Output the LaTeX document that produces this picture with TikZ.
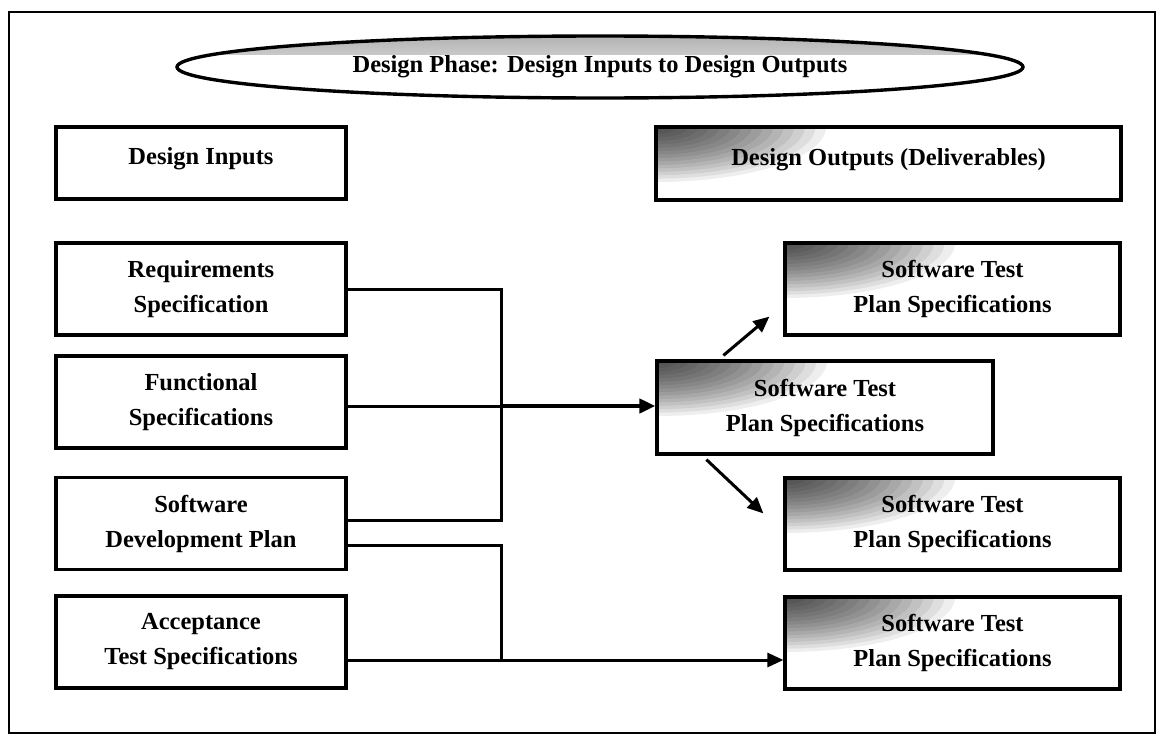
\documentclass[tikz,border=0pt]{standalone}
\usepackage{fontspec}
\setmainfont{Liberation Serif}
\usetikzlibrary{arrows.meta,calc,shapes.geometric}
\begin{document}
\begin{tikzpicture}[x=1pt,y=-1pt,
  txt/.style={font=\fontsize{24.5}{35}\selectfont\bfseries},
  box/.style={txt, draw=black, line width=3.2pt, fill=white, inner sep=0pt, align=center},
  shaded corner/.style={path picture={\foreach \k in {1,...,16} {\fill[black, fill opacity=0.065] (path picture bounding box.north west) ellipse ({170pt*\k/16} and {55pt*\k/16});}}},
  inbox/.style={box, minimum width=290pt, minimum height=92pt},
  outbox/.style={box, shaded corner, minimum width=335pt, minimum height=92pt},
  conn/.style={draw=black, line width=3pt},
  arr/.style={conn, -{Triangle[length=16pt,width=14pt]}},
]
\useasboundingbox (0,0) rectangle (1158,736);
\draw[line width=2.6pt] (9,12) rectangle (1155,733);

\node[txt, ellipse, draw=black, line width=3.4pt, minimum width=846pt, minimum height=62pt, inner sep=0pt,
  path picture={\shade[top color=black!30, bottom color=white] (path picture bounding box.north west) rectangle ([yshift=-18pt]path picture bounding box.north east);}]
  (title) at (600,67) {Design Phase: Design Inputs to Design Outputs};

\node[box, minimum width=290pt, minimum height=72pt] (din) at (201,163) {\raisebox{14pt}{Design Inputs}};
\node[box, shaded corner, minimum width=465pt, minimum height=73pt] (dout) at (888.5,163.5) {\raisebox{14pt}{Design Outputs (Deliverables)}};

\node[inbox] (req) at (201,289) {Requirements\\Specification};
\node[inbox] (fun) at (201,402) {Functional\\Specifications};
\node[inbox] (dev) at (201,523.5) {Software\\Development Plan};
\node[inbox] (acc) at (201,642) {Acceptance\\Test Specifications};

\node[outbox] (o1) at (952.5,289) {Software Test\\Plan Specifications};
\node[outbox, minimum width=336pt, minimum height=93pt] (mid) at (825,407.5) {Software Test\\Plan Specifications};
\node[outbox] (o2) at (952.5,524) {Software Test\\Plan Specifications};
\node[outbox] (o3) at (952.5,643) {Software Test\\Plan Specifications};

\coordinate (jx) at (501,0);
\coordinate (d1) at ([yshift=3.5pt]dev.east);
\coordinate (d2) at ([yshift=-22pt]dev.east);
\coordinate (f1) at ([yshift=-4pt]fun.east);
\coordinate (a1) at ([yshift=-18pt]acc.east);

\draw[conn] (req.east) -| (jx |- d1) -- (d1);
\draw[conn] (f1) -- (jx |- f1);
\draw[arr, line width=4.2pt] (jx |- f1) -- (mid.west |- f1);
\draw[conn] (d2) -| (jx |- a1);
\draw[arr] (a1) -- (o3.west |- a1);
\draw[arr] ($(mid.north west)+(68,-4)$) -- ($(o1.south west)+(-14,-20)$);
\draw[arr] ($(mid.south west)+(51,4)$) -- ($(o2.north west)+(-20,37)$);
\end{tikzpicture}
\end{document}
